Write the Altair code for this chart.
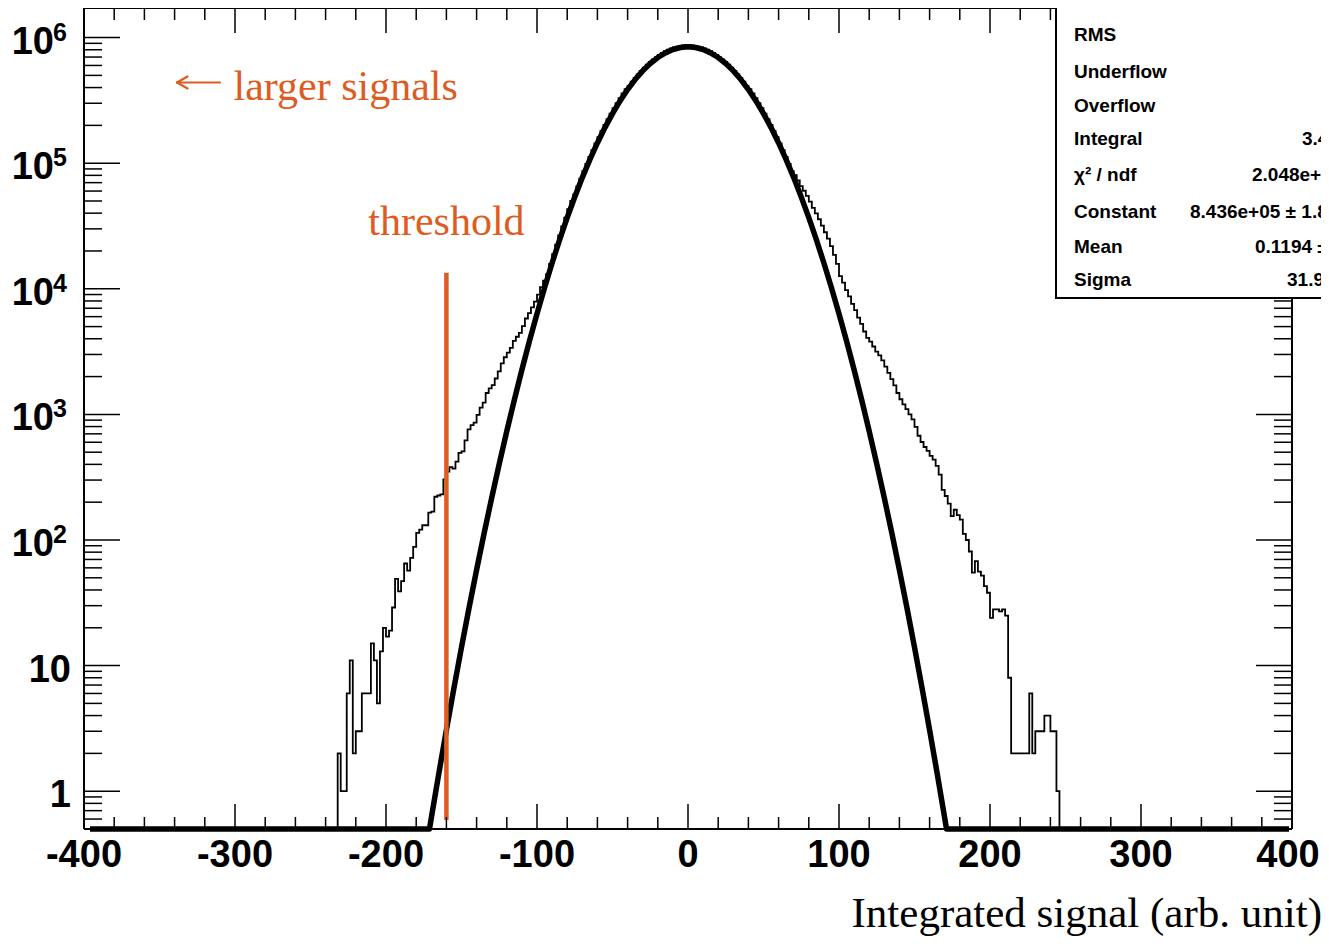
import altair as alt
import pandas as pd

# ------------------------------------------------------------------ data
bin_width = 2
first_bin_edge = -232

# histogram contents, read bin by bin from the picture (bins of 2 units)
left_tail_counts = [2, 1, 1, 6, 11, 2, 3, 3, 6, 6,
                    6, 15, 11, 5, 13, 20, 17, 19, 29, 49,
                    39, 47, 65, 57, 72, 88, 114, 121, 131, 131,
                    165, 168, 221, 226, 231, 303, 350, 380, 370, 420,
                    494, 507, 620, 760, 820, 860, 990, 1130, 1240, 1480,
                    1610, 1710, 1930, 2200, 2550, 2850, 3100, 3380, 3850, 4150,
                    4450, 5050, 5800, 6400, 7100, 7900, 9000, 10300, 11600, 13100, 15800]
core_counts = [18900, 22460, 26580, 31330, 36780, 43020, 50110, 56540, 65340, 75210,
               86240, 98540, 112100, 127100, 143400, 161400, 180800, 201700, 224200, 248100,
               273700, 300600, 328900, 358600, 389200, 412900, 444800, 477300, 510100, 542900,
               575800, 608200, 640100, 670600, 700100, 728000, 754100, 778200, 799900, 819000,
               835100, 848300, 858300, 865200, 868700,
               868700, 865200, 858300, 848300, 835100, 819000, 799900, 778200, 754100, 728000,
               700100, 670600, 640100, 608200, 575800, 542900, 510100, 477300, 444800, 412900,
               389200, 358600, 328900, 300600, 273700, 248100, 224200, 201700, 180800, 161400,
               143400, 127100, 112100, 98540, 86240, 80230, 72810, 65700, 60320, 54970,
               49390, 44100, 39870, 35780, 31850]
right_tail_counts = [28200, 25100, 21900, 18600, 15800, 12600, 11200, 9770, 8710, 7590,
                     6760, 5890, 5250, 4570, 4070, 3800, 3470, 3160, 2950, 2690,
                     2400, 2140, 1910, 1700, 1480, 1320, 1200, 1100, 1000, 912,
                     794, 676, 603, 550, 513, 468, 437, 389, 331, 251,
                     224, 195, 155, 174, 158, 145, 112, 100, 81, 55,
                     68, 56, 52, 43, 38, 24, 28, 28, 27, 28,
                     25, 8, 2, 2, 2, 2, 2, 2, 6, 2,
                     3, 3, 3, 4, 4, 3, 3, 1]

# Gaussian fit curve (clipped to the frame floor at 0.5)
fit_x = [-396, -171.2] + list(range(-170, 175, 5)) + [171.2, 398]
fit_y = [0.5, 0.5,
         0.611, 1.387, 3.07, 6.63, 14.0, 28.8, 57.8, 113.3, 216.6, 404.1,
         735.8, 1307, 2267, 3835, 6332, 10200, 16040, 24610, 36860, 53850,
         76770, 106800, 145000, 192100, 248300, 313200, 385700, 463400, 543100, 621500,
         693700, 755500, 803500, 833300,
         843600,
         833300, 803500, 755500, 693700,
         621500, 543100, 463400, 385700, 313200, 248300, 192100, 145000, 106800, 76770,
         53850, 36860, 24610, 16040, 10200, 6332, 3835, 2267, 1307, 735.8,
         404.1, 216.6, 113.3, 57.8, 28.8, 14.0, 6.63, 3.07, 1.387, 0.611,
         0.5, 0.5]

threshold_x = -160
threshold_y = [0.59, 13400]

x_label_values = [-400, -300, -200, -100, 0, 100, 200, 300]
x_label_text = ["-400", "-300", "-200", "-100", "0", "100", "200", "300"]
x_last_label_value = 400
x_last_label_text = "400"
x_major_ticks = [-400, -300, -200, -100, 0, 100, 200, 300, 400]
x_minor_ticks = [v for v in range(-380, 400, 20) if v % 100 != 0]

y_plain_values = [1, 10]
y_plain_text = ["1", "10"]
y_exp_values = [100, 1e3, 1e4, 1e5, 1e6]
y_exp_text = ["2", "3", "4", "5", "6"]
y_major_ticks = [1, 10, 100, 1e3, 1e4, 1e5, 1e6]
y_minor_ticks = [m * 10.0 ** k for k in range(-1, 6) for m in range(2, 10) if m * 10.0 ** k > 0.55]

stats_names = ["Mean", "RMS", "Underflow", "Overflow", "Integral", "\u03c7\u00b2 / ndf",
               "Constant", "Mean", "Sigma"]
stats_values = ["-0.09385", "35.47", "0", "0", "3.412e+07", "2.048e+04 / 117",
                "8.436e+05 \u00b1 1.8e+02", "0.1194 \u00b1 0.0021", "31.97 \u00b1 0.01"]

# ------------------------------------------------------------------ layout
W, H = 1208, 821
ORANGE = "#DD5C22"
SANS = "Liberation Sans"
SERIF = "Liberation Serif"
stats_row_y = [-10, 26.5, 64, 98, 131, 167, 204, 239, 272]
stats_value_x = [1206, 1261, 1300, 1300, 1218, 1168, 1106, 1171, 1203]

x_scale = alt.Scale(domain=[-400, 400], nice=False, zero=False)
y_scale = alt.Scale(type="log", domain=[0.5, 1.72e6], nice=False)


def X(f="x"):
    return alt.X(f"{f}:Q", scale=x_scale, axis=None)


def Y(f="y"):
    return alt.Y(f"{f}:Q", scale=y_scale, axis=None)


dummy = pd.DataFrame({"k": [0]})

# histogram (step line)
hist_counts = left_tail_counts + core_counts + right_tail_counts
hist_x = ([-400] + [first_bin_edge + bin_width * i for i in range(len(hist_counts))]
          + [first_bin_edge + bin_width * len(hist_counts), 400])
hist_c = [0] + hist_counts + [0, 0]
hist = (alt.Chart(pd.DataFrame({"x": hist_x, "count": hist_c}))
        .transform_calculate(y="max(datum.count, 0.5)")
        .mark_line(interpolate="step-after", color="black", strokeWidth=1.8)
        .encode(x=X(), y=Y()))

fit = (alt.Chart(pd.DataFrame({"x": fit_x, "y": fit_y}))
       .mark_line(color="black", strokeWidth=5.5, strokeJoin="round")
       .encode(x=X(), y=Y()))

thr = (alt.Chart(pd.DataFrame({"x": [threshold_x], "y": [threshold_y[0]], "y2": [threshold_y[1]]}))
       .mark_rule(color=ORANGE, strokeWidth=4.5)
       .encode(x=X(), y=Y(), y2="y2:Q"))

layers = [hist, fit, thr]

# frame
for enc in [dict(x=alt.value(0), x2=alt.value(W), y=alt.value(0)),
            dict(x=alt.value(0), x2=alt.value(W), y=alt.value(H)),
            dict(x=alt.value(0), y=alt.value(0), y2=alt.value(H)),
            dict(x=alt.value(W), y=alt.value(0), y2=alt.value(H))]:
    layers.append(alt.Chart(dummy).mark_rule(color="black", strokeWidth=2).encode(**enc))

# ticks (inward, ROOT style)
xmaj = pd.DataFrame({"x": x_major_ticks})
xmin = pd.DataFrame({"x": x_minor_ticks})
ymaj = pd.DataFrame({"y": y_major_ticks})
ymin = pd.DataFrame({"y": y_minor_ticks})
tk = dict(color="black", strokeWidth=1.5)
layers += [
    alt.Chart(xmaj).mark_rule(**tk).encode(x=X(), y=alt.value(H - 25), y2=alt.value(H)),
    alt.Chart(xmaj).mark_rule(**tk).encode(x=X(), y=alt.value(0), y2=alt.value(25)),
    alt.Chart(xmin).mark_rule(**tk).encode(x=X(), y=alt.value(H - 12), y2=alt.value(H)),
    alt.Chart(xmin).mark_rule(**tk).encode(x=X(), y=alt.value(0), y2=alt.value(12)),
    alt.Chart(ymaj).mark_rule(**tk).encode(y=Y(), x=alt.value(0), x2=alt.value(36)),
    alt.Chart(ymaj).mark_rule(**tk).encode(y=Y(), x=alt.value(W - 36), x2=alt.value(W)),
    alt.Chart(ymin).mark_rule(**tk).encode(y=Y(), x=alt.value(0), x2=alt.value(18)),
    alt.Chart(ymin).mark_rule(**tk).encode(y=Y(), x=alt.value(W - 18), x2=alt.value(W)),
]

# tick labels
lab = dict(font=SANS, fontWeight="bold", color="black")
layers.append(
    alt.Chart(pd.DataFrame({"x": x_label_values, "t": x_label_text}))
    .mark_text(fontSize=38, align="center", baseline="alphabetic", **lab)
    .encode(x=X(), y=alt.value(H + 38), text="t:N"))
# last label nudged so it stays inside the page
layers.append(
    alt.Chart(pd.DataFrame({"x": [x_last_label_value], "t": [x_last_label_text]}))
    .mark_text(fontSize=38, align="center", baseline="alphabetic", dx=-4, **lab)
    .encode(x=X(), y=alt.value(H + 38), text="t:N"))
layers.append(
    alt.Chart(pd.DataFrame({"y": y_plain_values, "t": y_plain_text}))
    .mark_text(fontSize=38, align="right", baseline="alphabetic", dy=16, **lab)
    .encode(y=Y(), x=alt.value(-13), text="t:N"))
layers.append(
    alt.Chart(pd.DataFrame({"y": y_exp_values, "t": ["10"] * len(y_exp_values)}))
    .mark_text(fontSize=38, align="right", baseline="alphabetic", dy=16, **lab)
    .encode(y=Y(), x=alt.value(-30), text="t:N"))
layers.append(
    alt.Chart(pd.DataFrame({"y": y_exp_values, "t": y_exp_text}))
    .mark_text(fontSize=25, align="left", baseline="alphabetic", dy=3, **lab)
    .encode(y=Y(), x=alt.value(-31), text="t:N"))

# annotations
layers.append(
    alt.Chart(pd.DataFrame({"x": [-301], "y": [3.18e5]}))
    .mark_text(text="larger signals", font=SERIF, fontSize=42, color=ORANGE,
               align="left", baseline="alphabetic")
    .encode(x=X(), y=Y()))
# the arrow in front of "larger signals"
arrow = dict(color=ORANGE, strokeWidth=2.2, strokeCap="round")
layers += [
    alt.Chart(dummy).mark_rule(**arrow).encode(x=alt.value(93), x2=alt.value(136),
                                               y=alt.value(74.5), y2=alt.value(74.5)),
    alt.Chart(dummy).mark_rule(**arrow).encode(x=alt.value(93), x2=alt.value(103.5),
                                               y=alt.value(74.5), y2=alt.value(68.5)),
    alt.Chart(dummy).mark_rule(**arrow).encode(x=alt.value(93), x2=alt.value(103.5),
                                               y=alt.value(74.5), y2=alt.value(80.5)),
]
layers.append(
    alt.Chart(pd.DataFrame({"x": [threshold_x], "y": [2.68e4]}))
    .mark_text(text="threshold", font=SERIF, fontSize=42, color=ORANGE,
               align="center", baseline="alphabetic")
    .encode(x=X(), y=Y()))
layers.append(
    alt.Chart(dummy)
    .mark_text(text="Integrated signal (arb. unit)", font=SERIF, fontSize=43, color="black",
               align="right", baseline="alphabetic")
    .encode(x=alt.value(1238), y=alt.value(919)))

# stats box
layers.append(
    alt.Chart(dummy).mark_rect(fill="white", stroke="black", strokeWidth=2)
    .encode(x=alt.value(972), x2=alt.value(1400), y=alt.value(-30), y2=alt.value(290)))
for name, val, ry, vx in zip(stats_names, stats_values, stats_row_y, stats_value_x):
    layers.append(alt.Chart(dummy).mark_text(text=name, fontSize=19, align="left",
                                             baseline="middle", **lab)
                  .encode(x=alt.value(990), y=alt.value(ry)))
    layers.append(alt.Chart(dummy).mark_text(text=val, fontSize=19, align="left",
                                             baseline="middle", **lab)
                  .encode(x=alt.value(vx), y=alt.value(ry)))

chart = (alt.layer(*layers)
         .properties(width=W, height=H,
                     autosize=alt.AutoSizeParams(type="none"),
                     padding={"left": 76, "top": 0, "right": 29, "bottom": 108},
                     background="white")
         .configure_view(strokeOpacity=0))

chart.save("out.html", embed_options={"renderer": "svg", "actions": False})
